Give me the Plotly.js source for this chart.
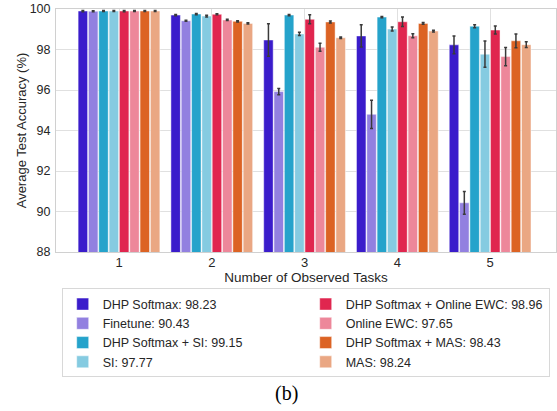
<!DOCTYPE html>
<html>
<head>
<meta charset="utf-8">
<script src="https://cdn.plot.ly/plotly-3.0.1.min.js"></script>
<style>
html,body{margin:0;padding:0;background:#fff;}
#chart{width:557px;height:411px;}
</style>
</head>
<body>
<div id="chart"></div>
<script>
const tasks = ['1', '2', '3', '4', '5'];

const seriesNames = [
  'DHP Softmax: 98.23',
  'Finetune: 90.43',
  'DHP Softmax + SI: 99.15',
  'SI: 97.77',
  'DHP Softmax + Online EWC: 98.96',
  'Online EWC: 97.65',
  'DHP Softmax + MAS: 98.43',
  'MAS: 98.24'
];

const dhpSoftmax     = [99.90, 99.70, 98.47, 98.67, 98.23];
const finetune       = [99.89, 99.42, 95.92, 94.80, 90.43];
const dhpSI          = [99.90, 99.75, 99.70, 99.60, 99.15];
const si             = [99.90, 99.65, 98.77, 99.01, 97.77];
const dhpEWC         = [99.90, 99.74, 99.49, 99.37, 98.96];
const onlineEWC      = [99.90, 99.46, 98.11, 98.68, 97.65];
const dhpMAS         = [99.90, 99.39, 99.36, 99.29, 98.43];
const mas            = [99.90, 99.29, 98.58, 98.91, 98.24];

const dhpSoftmaxErr  = [0.03, 0.03, 0.80, 0.55, 0.44];
const finetuneErr    = [0.02, 0.03, 0.15, 0.70, 0.56];
const dhpSIErr       = [0.02, 0.03, 0.03, 0.03, 0.07];
const siErr          = [0.02, 0.04, 0.08, 0.10, 0.65];
const dhpEWCErr      = [0.03, 0.03, 0.22, 0.24, 0.20];
const onlineEWCErr   = [0.02, 0.03, 0.20, 0.10, 0.45];
const dhpMASErr      = [0.02, 0.03, 0.05, 0.04, 0.34];
const masErr         = [0.02, 0.03, 0.04, 0.04, 0.14];

const seriesValues = [dhpSoftmax, finetune, dhpSI, si, dhpEWC, onlineEWC, dhpMAS, mas];
const seriesErrors = [dhpSoftmaxErr, finetuneErr, dhpSIErr, siErr, dhpEWCErr, onlineEWCErr, dhpMASErr, masErr];
const colors = ['#3a1ccb', '#9280e0', '#25a3cb', '#85cbe1', '#e0264f', '#ed879a', '#dc6324', '#eaa783'];
// legend is laid out column-wise in the reference: two columns of four
const legendRanks = [1, 3, 5, 7, 2, 4, 6, 8];

const FONT = 'Liberation Sans, Arial, sans-serif';

const traces = seriesNames.map((name, i) => ({
  type: 'bar',
  name: name,
  x: tasks,
  y: seriesValues[i],
  legendrank: legendRanks[i],
  marker: {color: colors[i], line: {color: 'rgba(255,255,255,0.6)', width: 0.8}},
  error_y: {type: 'data', array: seriesErrors[i], visible: true, color: '#3a3a3a', thickness: 1.5, width: 1.5}
}));

const layout = {
  width: 557,
  height: 411,
  margin: {l: 56, r: 1, t: 9, b: 159},
  paper_bgcolor: '#ffffff',
  plot_bgcolor: '#ffffff',
  barmode: 'group',
  bargap: 0.11,
  bargroupgap: 0.08,
  font: {family: FONT, size: 12, color: '#262626'},
  showlegend: true,
  legend: {
    orientation: 'h',
    x: 0.0114, xanchor: 'left',
    y: -0.15, yanchor: 'top',
    entrywidth: 198,
    bordercolor: '#d8d8d8',
    borderwidth: 1,
    bgcolor: '#ffffff',
    font: {family: FONT, size: 12.5, color: '#262626'},
    traceorder: 'normal'
  },
  xaxis: {
    type: 'category',
    range: [-0.679, 4.71],
    showgrid: true,
    gridcolor: '#e0e0e0',
    gridwidth: 1,
    showline: true,
    linecolor: '#d0d0d0',
    linewidth: 1,
    mirror: true,
    ticks: '',
    ticklabelstandoff: -2,
    tickfont: {family: FONT, size: 13, color: '#262626'},
    title: {text: 'Number of Observed Tasks', font: {family: FONT, size: 13.5, color: '#262626'}, standoff: 0},
    automargin: false,
    zeroline: false
  },
  yaxis: {
    range: [88, 100],
    tickvals: [88, 90, 92, 94, 96, 98, 100],
    showgrid: true,
    gridcolor: '#e0e0e0',
    gridwidth: 1,
    showline: true,
    linecolor: '#d0d0d0',
    linewidth: 1,
    mirror: true,
    ticks: '',
    ticklabelstandoff: 2,
    tickfont: {family: FONT, size: 12.5, color: '#262626'},
    title: {text: 'Average Test Accuracy (%)', font: {family: FONT, size: 13, color: '#262626'}, standoff: 0},
    automargin: false,
    zeroline: false
  },
  annotations: [{
    text: '(b)',
    xref: 'paper', yref: 'paper',
    x: 0.46, y: -0.584,
    xanchor: 'center', yanchor: 'middle',
    showarrow: false,
    font: {family: 'Liberation Serif, Times New Roman, serif', size: 20, color: '#000000'}
  }]
};

Plotly.newPlot('chart', traces, layout, {displayModeBar: false, staticPlot: true});
</script>
</body>
</html>
